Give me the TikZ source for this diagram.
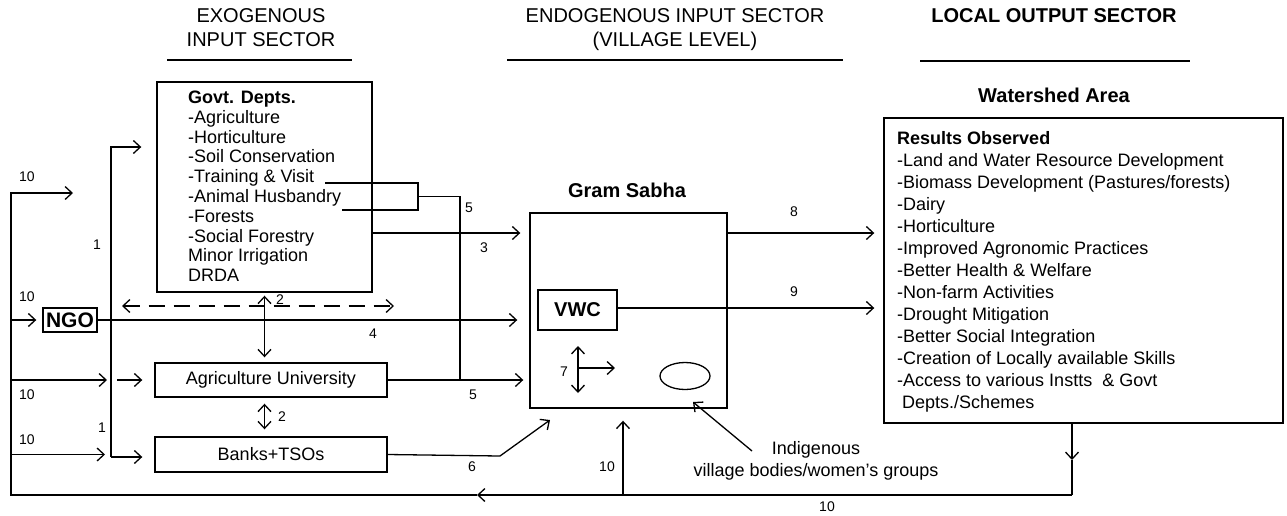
\documentclass[tikz,border=0pt]{standalone}
\usepackage{fontspec}
\setmainfont{Liberation Sans}
\usetikzlibrary{arrows.meta,calc,shapes.geometric}
\begin{document}
\begin{tikzpicture}[x=1pt,y=-1pt,
  ln/.style={line width=1.3pt},
  tipc/.tip={Straight Barb[length=7pt,width=13pt]},
  arr/.style={ln,-tipc},
  darr/.style={ln,tipc-tipc},
  box/.style={draw,line width=1.4pt,inner sep=0pt},
  txt/.style={inner sep=0pt,font=\fontsize{18}{20}\selectfont},
  btxt/.style={inner sep=0pt,font=\bfseries\fontsize{18}{20}\selectfont},
  lbl/.style={inner sep=0pt,font=\fontsize{14}{16}\selectfont},
  hdr/.style={inner sep=0pt,font=\fontsize{20}{24}\selectfont},
  bhdr/.style={inner sep=0pt,font=\bfseries\fontsize{20}{24}\selectfont}]
\useasboundingbox (0,0) rectangle (1287,515);

% headers
\node[hdr] (h1a) at (261,16) {EXOGENOUS};
\node[hdr] (h1b) at (261,40) {INPUT SECTOR};
\draw[ln] (167,60) -- (352,60);
\node[hdr] (h2a) at (675,16) {ENDOGENOUS INPUT SECTOR};
\node[hdr] (h2b) at (675,41) {(VILLAGE LEVEL)};
\draw[ln] (507,60) -- (843,60);
\node[bhdr] (h3) at (1054,16) {LOCAL OUTPUT SECTOR};
\draw[ln] (920,61) -- (1190,61);
\node[bhdr] (ws) at (1054,95) {Watershed Area};
\node[bhdr] (gs) at (627,190) {Gram Sabha};

% boxes
\node[box,minimum width=215pt,minimum height=210pt] (govt) at (264.5,187) {};
\node[box,txt,minimum width=232pt,minimum height=34pt] (agri) at (271,380) {Agriculture University};
\node[box,txt,minimum width=232pt,minimum height=35pt] (banks) at (271,454.5) {Banks+TSOs};
\node[box,minimum width=54pt,minimum height=24pt,font=\bfseries\fontsize{21}{24}\selectfont] (ngo) at (70,320) {NGO};
\node[box,minimum width=197pt,minimum height=195pt] (gram) at (628.5,310.5) {};
\node[box,minimum width=79pt,minimum height=40pt,font=\bfseries\fontsize{20}{24}\selectfont] (vwc) at (577.5,310) {VWC};
\node[box,minimum width=399pt,minimum height=305pt] (res) at (1083.5,270.5) {};
\node[draw,ellipse,line width=1.3pt,minimum width=50pt,minimum height=27pt,inner sep=0pt] (ell) at (685,376) {};

% govt text
\node[btxt,anchor=base west] (g1) at (188,103.5) {Govt. Depts.};
\foreach \t [count=\i from 2] in {-Agriculture,-Horticulture,-Soil Conservation,-Training \& Visit,-Animal Husbandry,-Forests,-Social Forestry,Minor Irrigation,DRDA}
  \node[txt,anchor=base west] (g\i) at ({188},{103.5+19.8*(\i-1)}) {\t};

% results text
\node[btxt,anchor=base west] (r1) at (897,144.5) {Results Observed};
\foreach \t [count=\i from 2] in {-Land and Water Resource Development,-Biomass Development (Pastures/forests),-Dairy,-Horticulture,-Improved Agronomic Practices,-Better Health \& Welfare,-Non-farm Activities,-Drought Mitigation,-Better Social Integration,-Creation of Locally available Skills,-Access to various Instts\ \ \& Govt}
  \node[txt,anchor=base west] (r\i) at ({897},{144.5+22*(\i-1)}) {\t};
\node[txt,anchor=base west] (r13) at (902,408.5) {Depts./Schemes};

% coordinates
\coordinate (t1) at (325,183);
\coordinate (t2) at (418,183);
\coordinate (t3) at (418,210);
\coordinate (t4) at (342,210);
\coordinate (t5) at (418,196.5);
\coordinate (j5) at (460,196.5);
\coordinate (b6) at (500,456);
\coordinate (e6) at (550,420);
\coordinate (fd) at (1072,460);
\coordinate (fc) at (1072,495);
\coordinate (fm) at (477,495);
\coordinate (fl) at (11,495);
\coordinate (ft) at (11,193);
\coordinate (fe) at (73,193);
\coordinate (fu) at (623,495);
\coordinate (a10) at (107,380);
\coordinate (b10) at (105,454.5);
\coordinate (v1t) at (111,147);
\coordinate (v1b) at (111,457);
\coordinate (v1m) at (117,380);
\coordinate (dL) at (122,306);
\coordinate (dR) at (394,306);
\coordinate (s7t) at (578,346);
\coordinate (s7b) at (578,393);
\coordinate (s7m) at (578,368);
\coordinate (s7r) at (615,368);
\coordinate (ip) at (752,451);
\coordinate (ipt) at (693,402);

% connectors
\draw[arr,shorten >=9pt] (govt.east |- 0,233) -- (gram.west |- 0,233);
\draw[arr,shorten >=9pt] (gram.east |- 0,233) -- (res.west |- 0,233);
\draw[arr,shorten >=9pt] (vwc.east |- 0,308) -- (res.west |- 0,308);
\draw[arr,shorten >=12pt] (ngo.east) -- (gram.west |- ngo.east);
\draw[darr,dash pattern=on 16pt off 9pt] (dL) -- (dR);
\draw[darr,shorten <=3pt,shorten >=5pt] (govt.south) -- (govt.south |- agri.north);
\draw[darr,shorten <=6pt,shorten >=7pt] (govt.south |- agri.south) -- (govt.south |- banks.north);
\draw[ln] (t1) -- (t2) -- (t3) -- (t4);
\draw[ln] (t5) -- (j5) -- (j5 |- agri.east);
\draw[arr,shorten >=6pt] (agri.east) -- (gram.west |- agri.east);
\draw[arr] (banks.east) -- (b6) -- (e6);
\draw[arr] (res.south -| fc) -- (fd);
\draw[ln] (fd) -- (fc);
\draw[arr] (fc) -- (fm);
\draw[arr] (fm) -- (fl) -- (ft) -- (fe);
\draw[arr,shorten >=12pt] (fu) -- (fu |- gram.south);
\draw[arr,shorten >=6pt] (fl |- ngo.west) -- (ngo.west);
\draw[arr] (fl |- a10) -- (a10);
\draw[arr] (fl |- b10) -- (b10);
\draw[arr,shorten >=15pt] (v1b) -- (v1t) -- (govt.west |- v1t);
\draw[arr,shorten >=12pt] (v1b) -- (banks.west |- v1b);
\draw[arr,shorten >=12pt] (v1m) -- (agri.west);
\draw[darr] (s7t) -- (s7b);
\draw[arr] (s7m) -- (s7r);
\draw[arr] (ip) -- (ipt);

% labels
\node[txt] (ind1) at (816,450) {Indigenous};
\node[txt] (ind2) at (816,472) {village bodies/women's groups};
\node[lbl] (l10a) at (27,177) {10};
\node[lbl] (l10b) at (27,297) {10};
\node[lbl] (l10c) at (27,395) {10};
\node[lbl] (l10d) at (27,440) {10};
\node[lbl] (l10e) at (607,467) {10};
\node[lbl] (l10f) at (827,507) {10};
\node[lbl] (l1a) at (97,245) {1};
\node[lbl] (l1b) at (102,428) {1};
\node[lbl] (l2a) at (280,300) {2};
\node[lbl] (l2b) at (282,417) {2};
\node[lbl] (l3) at (484,248) {3};
\node[lbl] (l4) at (373,334) {4};
\node[lbl] (l5a) at (469,208) {5};
\node[lbl] (l5b) at (473,395) {5};
\node[lbl] (l6) at (472,467) {6};
\node[lbl] (l7) at (564,372) {7};
\node[lbl] (l8) at (794,212) {8};
\node[lbl] (l9) at (794,292) {9};
\end{tikzpicture}
\end{document}
